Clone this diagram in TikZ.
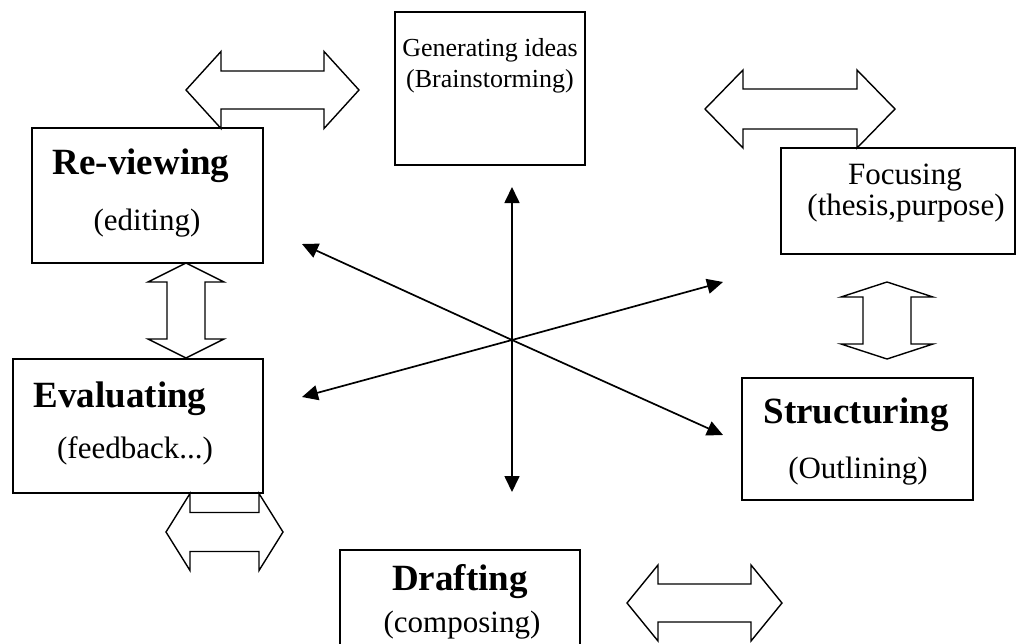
\documentclass[tikz,border=0pt]{standalone}
\usepackage{fontspec}
\setmainfont{Liberation Serif}
\usetikzlibrary{arrows.meta}
\newcommand\hollowH[6]{% cx cy L h s w
  \draw[hollow] ({#1-#3},#2) -- ({#1-#3+#4},{#2-#6}) -- ({#1-#3+#4},{#2-#5})
    -- ({#1+#3-#4},{#2-#5}) -- ({#1+#3-#4},{#2-#6}) -- ({#1+#3},#2)
    -- ({#1+#3-#4},{#2+#6}) -- ({#1+#3-#4},{#2+#5}) -- ({#1-#3+#4},{#2+#5})
    -- ({#1-#3+#4},{#2+#6}) -- cycle;}
\newcommand\hollowV[6]{% cx cy L h s w
  \draw[hollow] (#1,{#2-#3}) -- ({#1+#6},{#2-#3+#4}) -- ({#1+#5},{#2-#3+#4})
    -- ({#1+#5},{#2+#3-#4}) -- ({#1+#6},{#2+#3-#4}) -- (#1,{#2+#3})
    -- ({#1-#6},{#2+#3-#4}) -- ({#1-#5},{#2+#3-#4}) -- ({#1-#5},{#2-#3+#4})
    -- ({#1-#6},{#2-#3+#4}) -- cycle;}
\begin{document}
\begin{tikzpicture}[x=1pt,y=-1pt,
  box/.style={draw, line width=1.4pt, inner sep=0pt, outer sep=0pt, fill=white},
  hollow/.style={draw, line width=1.4pt, fill=white, line join=miter},
  boldlab/.style={font=\fontsize{37}{44}\selectfont\bfseries, anchor=base, inner sep=0pt},
  reglab/.style={font=\fontsize{31}{37}\selectfont, anchor=base, inner sep=0pt},
  smalllab/.style={font=\fontsize{26}{31}\selectfont, anchor=base, inner sep=0pt},
  spoke/.style={line width=1.7pt, -{Triangle[length=16pt,width=15pt]}}]
\useasboundingbox (0,0) rectangle (1018,643);
\clip (0,0) rectangle (1018,643);

% boxes
\node[box, minimum width=190pt, minimum height=153pt] (gen) at (490,88.5) {};
\node[box, minimum width=231pt, minimum height=135pt] (rev) at (147.5,195.5) {};
\node[box, minimum width=234pt, minimum height=106pt] (foc) at (898,201) {};
\node[box, minimum width=250pt, minimum height=134pt] (eva) at (138,426) {};
\node[box, minimum width=231pt, minimum height=122pt] (str) at (857.5,439) {};
\node[box, minimum width=240pt, minimum height=130pt] (dra) at (460,615) {};

% hollow double arrows
\hollowH{272.5}{90}{86.5}{35}{19}{38.5}
\hollowH{800}{109}{95}{38}{20}{39}
\hollowV{186}{310.5}{47.5}{19}{19}{38}
\hollowV{887}{320.5}{38.5}{15}{24}{46}
\hollowH{224.5}{532}{58.5}{24}{19.5}{38.5}
\hollowH{704.5}{603}{77.5}{31}{19}{38}

% labels
\node[smalllab] (genA) at (490,56) {Generating ideas};
\node[smalllab] (genB) at (490,87) {(Brainstorming)};
\node[boldlab] (revA) at (141,174) {Re-viewing};
\node[reglab] (revB) at (147,230) {(editing)};
\node[reglab] (focA) at (905,184) {Focusing};
\node[reglab] (focB) at (906,215) {(thesis,purpose)};
\node[boldlab] (evaA) at (120,407) {Evaluating};
\node[reglab] (evaB) at (135,458) {(feedback...)};
\node[boldlab] (strA) at (856,423) {Structuring};
\node[reglab] (strB) at (858,478) {(Outlining)};
\node[boldlab] (draA) at (460,590) {Drafting};
\node[reglab] (draB) at (462,632) {(composing)};

% central star
\coordinate (c) at (512,340);
\coordinate (tN) at (512,187);
\coordinate (tS) at (512,492);
\coordinate (tNW) at (302,244);
\coordinate (tNE) at (723,282);
\coordinate (tSW) at (302,397);
\coordinate (tSE) at (723,435);
\foreach \t in {tN,tS,tNW,tNE,tSW,tSE} \draw[spoke] (c) -- (\t);
\end{tikzpicture}
\end{document}
